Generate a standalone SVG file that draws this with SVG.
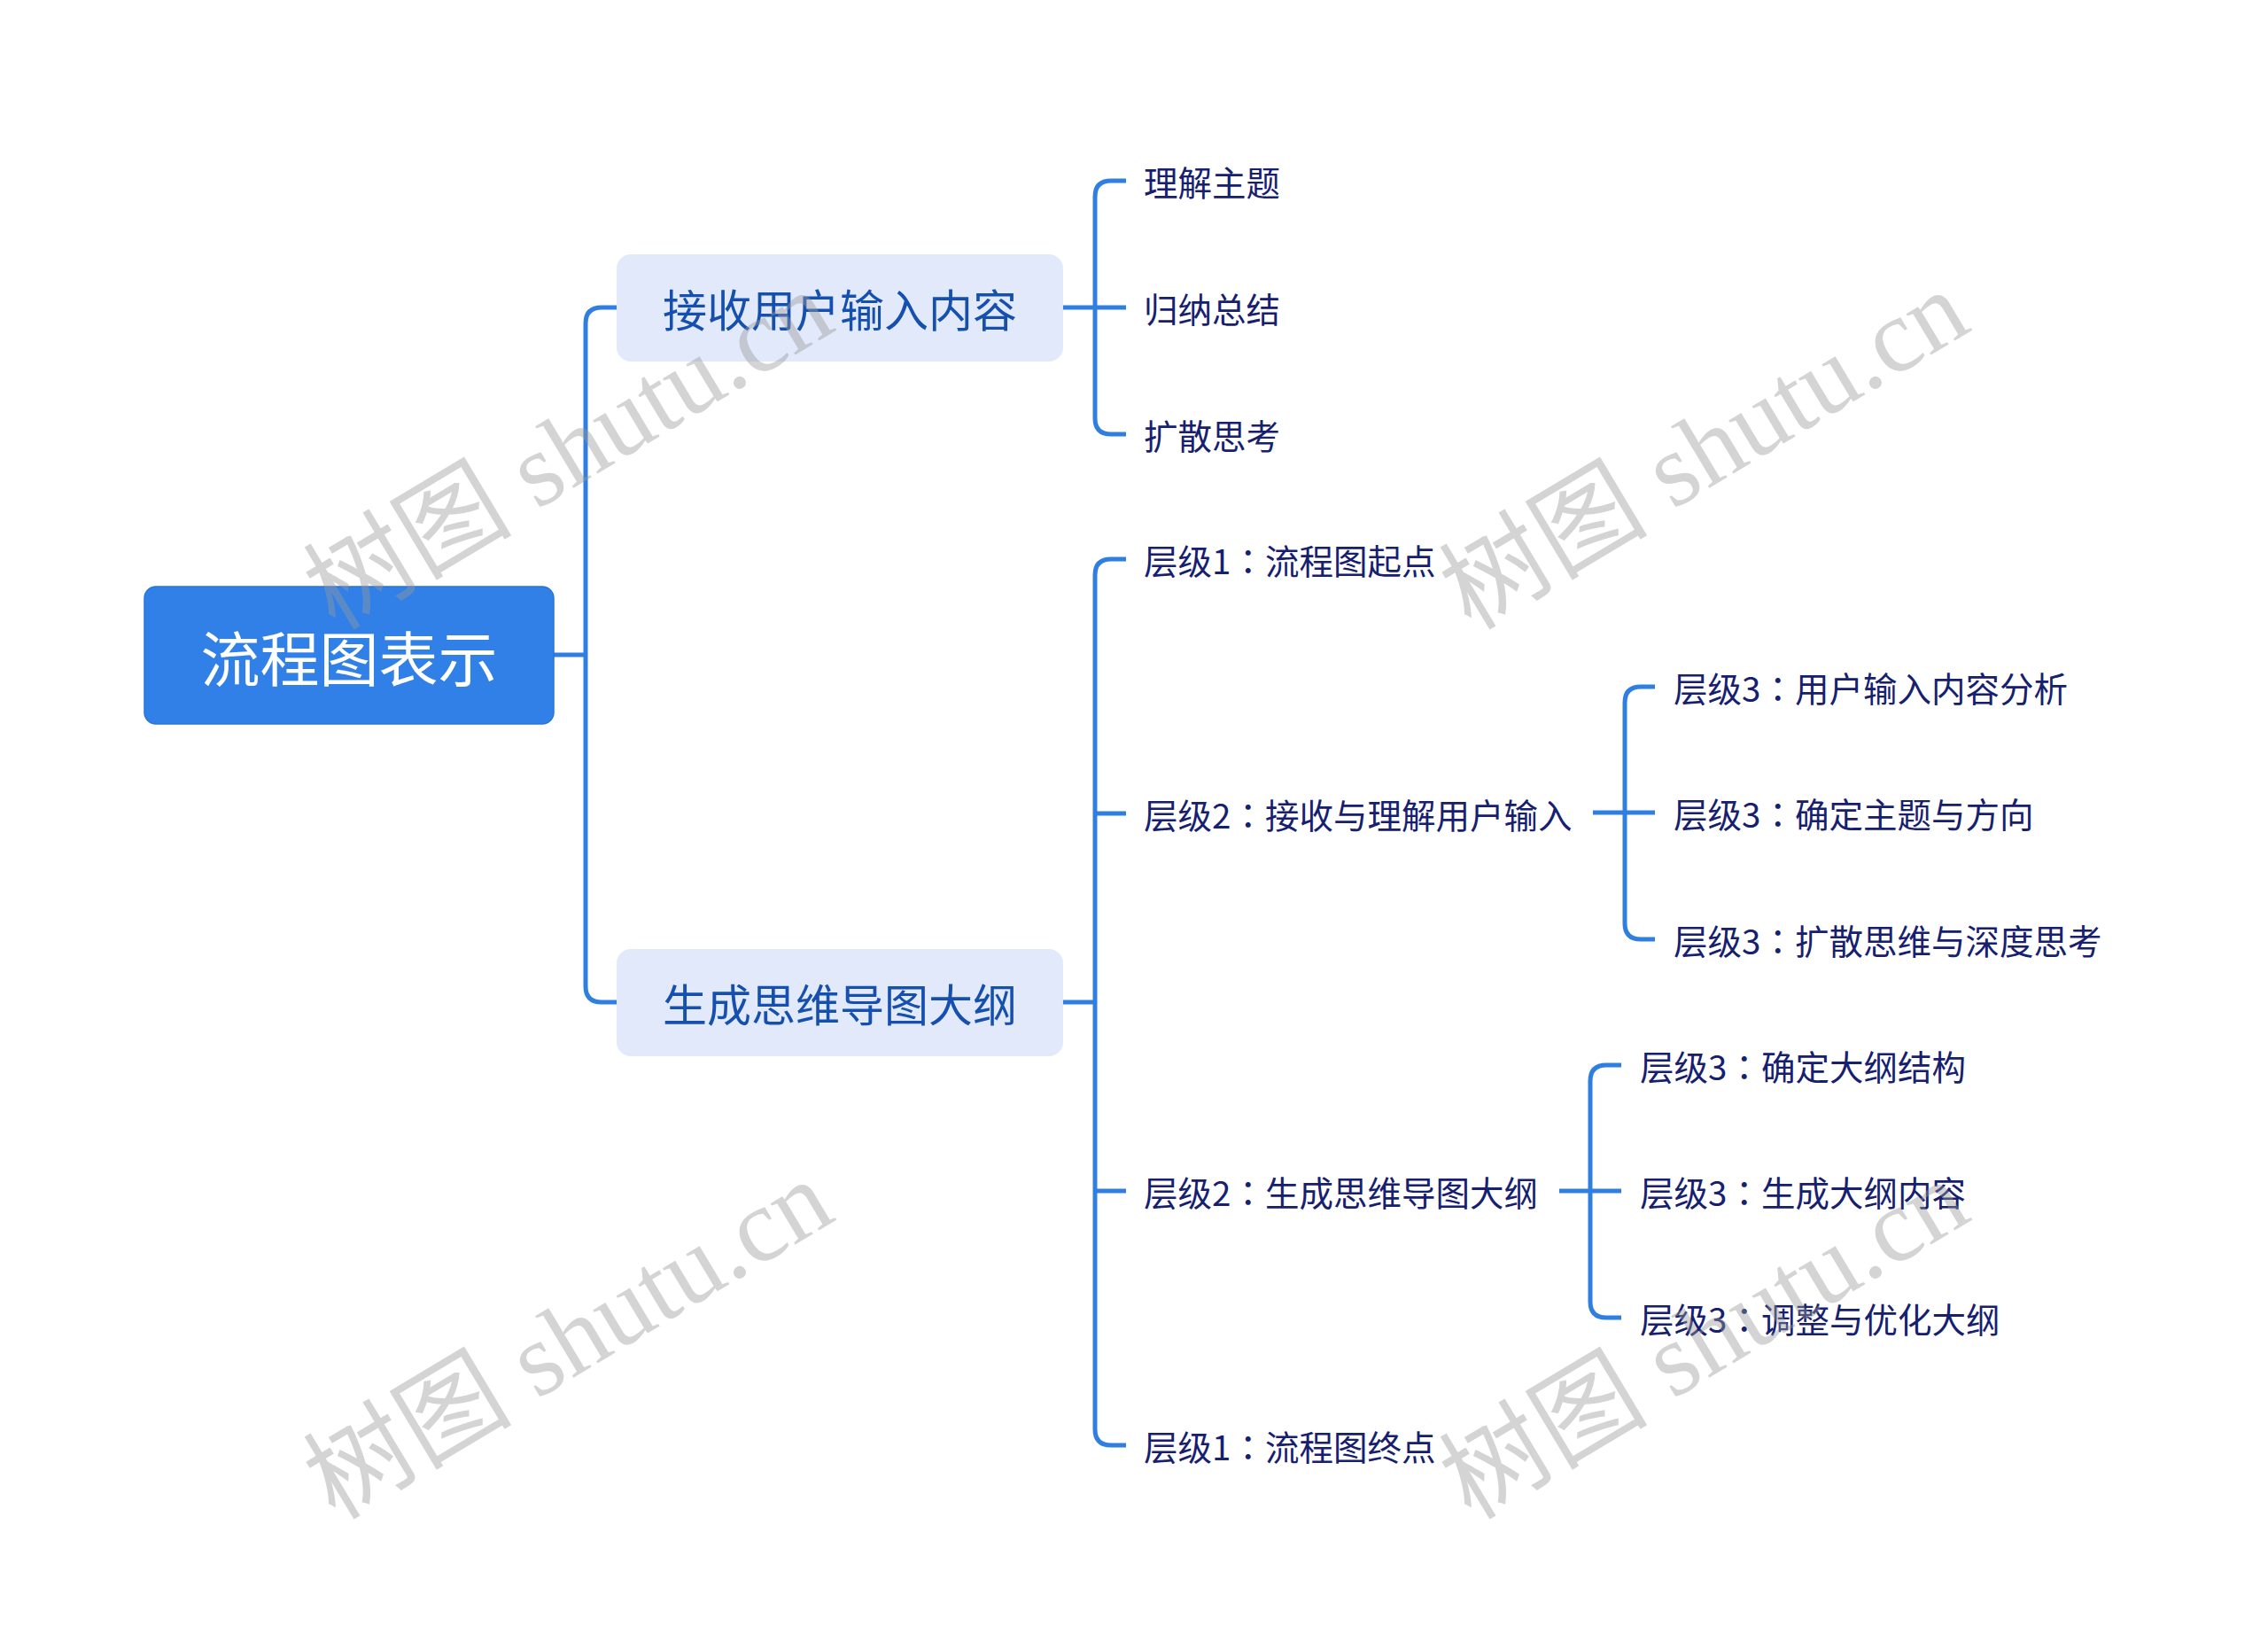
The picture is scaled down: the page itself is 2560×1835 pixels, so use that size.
<svg xmlns="http://www.w3.org/2000/svg" width="2560" height="1835" viewBox="0 0 2560 1835">
<style>
.cn{fill:none;stroke:#2F7EE0;stroke-width:5;stroke-linecap:butt;stroke-linejoin:round}
.t{font-family:"Noto Sans CJK SC","Noto Sans",sans-serif;dominant-baseline:central}
.root{fill:#FFFFFF;font-size:67px}
.mid{fill:#1650AE;font-size:50px}
.leaf{fill:#16206F;font-size:38.5px}
.c{font-family:"Noto Sans CJK JP","Noto Sans CJK SC",sans-serif}
.wm{font-family:"Liberation Serif","Noto Sans CJK SC",serif;font-size:118px;fill:#9a9a9a;opacity:0.42}
</style>
<rect width="2560" height="1835" fill="#FFFFFF"/>
<g id="connectors">
<path class="cn" d="M625,739 H661 M696,347 H679 Q661,347 661,365 V1113 Q661,1131 679,1131 H696"/>
<path class="cn" d="M1200,347 H1271 M1271,204 H1254 Q1236,204 1236,222 V472 Q1236,490 1254,490 H1271"/>
<path class="cn" d="M1200,1131 H1236 M1271,631 H1254 Q1236,631 1236,649 V1613 Q1236,1631 1254,1631 H1271 M1236,918 H1271 M1236,1344 H1271"/>
<path class="cn" d="M1798,917 H1868 M1868,775 H1852 Q1834,775 1834,793 V1042 Q1834,1060 1852,1060 H1868"/>
<path class="cn" d="M1760,1344 H1830 M1830,1202 H1813 Q1795,1202 1795,1220 V1469 Q1795,1487 1813,1487 H1830"/>
</g>
<g id="root">
<rect x="163" y="662" width="462" height="155" rx="13" fill="#3080E8" stroke="#2A74D6" stroke-width="1.5"/>
<text class="t root" x="394" y="739" text-anchor="middle">流程图表示</text>
</g>
<g id="node-receive">
<rect x="696" y="287" width="504" height="121" rx="16" fill="#E2E9FB"/>
<text class="t mid" x="948" y="347" text-anchor="middle">接收用户输入内容</text>
</g>
<g id="node-generate">
<rect x="696" y="1071" width="504" height="121" rx="16" fill="#E2E9FB"/>
<text class="t mid" x="948" y="1131" text-anchor="middle">生成思维导图大纲</text>
</g>
<g id="leaf-1"><text class="t leaf" x="1291" y="204">理解主题</text></g>
<g id="leaf-2"><text class="t leaf" x="1291" y="347">归纳总结</text></g>
<g id="leaf-3"><text class="t leaf" x="1291" y="490">扩散思考</text></g>
<g id="l1-start"><text class="t leaf" x="1291" y="631">层级1<tspan class="c">：</tspan>流程图起点</text></g>
<g id="l2-receive"><text class="t leaf" x="1291" y="918">层级2<tspan class="c">：</tspan>接收与理解用户输入</text></g>
<g id="l2-generate"><text class="t leaf" x="1291" y="1344">层级2<tspan class="c">：</tspan>生成思维导图大纲</text></g>
<g id="l1-end"><text class="t leaf" x="1291" y="1631">层级1<tspan class="c">：</tspan>流程图终点</text></g>
<g id="l3-a1"><text class="t leaf" x="1889" y="775">层级3<tspan class="c">：</tspan>用户输入内容分析</text></g>
<g id="l3-a2"><text class="t leaf" x="1889" y="917">层级3<tspan class="c">：</tspan>确定主题与方向</text></g>
<g id="l3-a3"><text class="t leaf" x="1889" y="1060">层级3<tspan class="c">：</tspan>扩散思维与深度思考</text></g>
<g id="l3-b1"><text class="t leaf" x="1851" y="1202">层级3<tspan class="c">：</tspan>确定大纲结构</text></g>
<g id="l3-b2"><text class="t leaf" x="1851" y="1344">层级3<tspan class="c">：</tspan>生成大纲内容</text></g>
<g id="l3-b3"><text class="t leaf" x="1851" y="1487">层级3<tspan class="c">：</tspan>调整与优化大纲</text></g>
<g id="watermarks">
<text class="wm" text-anchor="middle" transform="translate(662,542) rotate(-31)">树图 shutu.cn</text>
<text class="wm" text-anchor="middle" transform="translate(1944,542) rotate(-31)">树图 shutu.cn</text>
<text class="wm" text-anchor="middle" transform="translate(662,1546) rotate(-31)">树图 shutu.cn</text>
<text class="wm" text-anchor="middle" transform="translate(1944,1546) rotate(-31)">树图 shutu.cn</text>
</g>
</svg>
